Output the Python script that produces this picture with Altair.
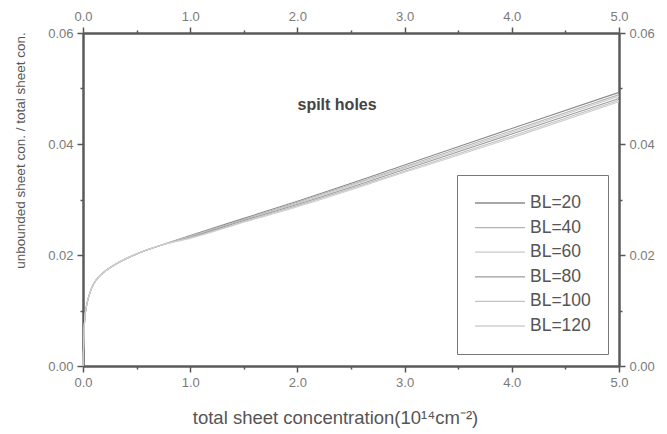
import altair as alt
import pandas as pd

# ---- data ----
x_vals = [0.0, 0.01, 0.02, 0.04, 0.07, 0.1, 0.15, 0.2, 0.3, 0.5, 0.75, 1.0, 1.5, 2.0, 3.0, 4.0, 5.0]
low = [0.0, 0.0065, 0.0092, 0.0115, 0.0135, 0.0148, 0.0161, 0.0170, 0.0183, 0.0202, 0.0219]
bl20 = low + [0.0235, 0.0266, 0.0297, 0.0362, 0.0428, 0.0493]
bl40 = low + [0.0234, 0.0264, 0.0295, 0.0359, 0.0424, 0.0489]
bl60 = low + [0.0233, 0.0263, 0.0293, 0.0357, 0.0421, 0.0486]
bl80 = low + [0.0232, 0.0262, 0.0291, 0.0354, 0.0418, 0.0482]
bl100 = low + [0.0231, 0.0260, 0.0289, 0.0351, 0.0414, 0.0479]
bl120 = low + [0.0230, 0.0259, 0.0287, 0.0349, 0.0411, 0.0476]

series_names = ["BL=20", "BL=40", "BL=60", "BL=80", "BL=100", "BL=120"]
series_vals = [bl20, bl40, bl60, bl80, bl100, bl120]
series_colors = ["#8a8a8a", "#b4b4b4", "#cacaca", "#9c9c9c", "#c2c2c2", "#cfcfcf"]

x_ticks = [0.0, 0.5, 1.0, 1.5, 2.0, 2.5, 3.0, 3.5, 4.0, 4.5, 5.0]
y_ticks = [0.0, 0.01, 0.02, 0.03, 0.04, 0.05, 0.06]

annot_text = ["spilt holes"]
annot_x = [2.37]
annot_y = [0.047]

rows = []
for name, vals in zip(series_names, series_vals):
    for xv, yv in zip(x_vals, vals):
        rows.append({"x": xv, "y": yv, "series": name})
df = pd.DataFrame(rows)
ann = pd.DataFrame({"x": annot_x, "y": annot_y, "t": annot_text})

FONT = "Liberation Sans"
xscale = alt.Scale(domain=[0, 5], nice=False, zero=False)
yscale = alt.Scale(domain=[0, 0.06], nice=False, zero=False)

x_label_expr = "round(datum.value*2) % 2 == 0 ? format(datum.value, '.1f') : ''"
y_label_expr = "round(datum.value*100) % 2 == 0 ? format(datum.value, '.2f') : ''"
x_tick_size = {"condition": {"test": "round(datum.value*2) % 2 == 0", "value": 6}, "value": 3}
y_tick_size = {"condition": {"test": "round(datum.value*100) % 2 == 0", "value": 6}, "value": 3}

common_axis = dict(
    grid=False,
    domainColor="#5a5a5a",
    domainWidth=2.5,
    tickColor="#555555",
    tickWidth=1.5,
    labelFont=FONT,
    labelFontSize=13,
    labelColor="#7a7a7a",
    labelPadding=4,
    labelOverlap=False,
    labelFlush=False,
)

lines = alt.Chart(df).mark_line(strokeWidth=1.1, interpolate="monotone").encode(
    x=alt.X("x:Q", scale=xscale,
            axis=alt.Axis(orient="bottom", values=x_ticks, labelExpr=x_label_expr,
                          tickSize=x_tick_size,
                          title="total sheet concentration(10¹⁴cm⁻²)",
                          titleFont=FONT, titleFontSize=18.5, titleFontWeight="normal",
                          titleColor="#555555", titleX=252, titleY=51,
                          titleBaseline="middle", titleAlign="center",
                          **common_axis)),
    y=alt.Y("y:Q", scale=yscale,
            axis=alt.Axis(orient="left", values=y_ticks, labelExpr=y_label_expr,
                          tickSize=y_tick_size,
                          title="unbounded sheet con. / total sheet con.",
                          titleFont=FONT, titleFontSize=13.5, titleFontWeight="normal",
                          titleColor="#555555", titleX=-63, titleY=117,
                          titleBaseline="middle", titleAlign="center", titleAngle=-90,
                          **common_axis)),
    color=alt.Color("series:N",
                    scale=alt.Scale(domain=series_names, range=series_colors),
                    sort=series_names,
                    legend=alt.Legend(
                        title=None, orient="none", legendX=374, legendY=142,
                        direction="vertical",
                        strokeColor="#777777", fillColor="white", padding=17,
                        symbolType="stroke", symbolSize=2500, symbolStrokeWidth=1.3,
                        labelFont=FONT, labelFontSize=17.5, labelColor="#555555",
                        labelOffset=4, clipHeight=22, rowPadding=2.6)),
)

frame = alt.Chart(df).mark_line(opacity=0).encode(
    x=alt.X("x:Q", scale=xscale,
            axis=alt.Axis(orient="top", values=x_ticks, labelExpr=x_label_expr,
                          tickSize=x_tick_size, title=None, **common_axis)),
    y=alt.Y("y:Q", scale=yscale,
            axis=alt.Axis(orient="right", values=y_ticks, labelExpr=y_label_expr,
                          tickSize=y_tick_size, title=None, **common_axis)),
    detail="series:N",
)

label = alt.Chart(ann).mark_text(font=FONT, fontSize=16, fontWeight="bold",
                                 color="#444444", align="center", baseline="middle").encode(
    x=alt.X("x:Q", scale=xscale, axis=None),
    y=alt.Y("y:Q", scale=yscale, axis=None),
    text="t:N",
)

chart = alt.layer(lines, label, frame).resolve_axis(x="independent", y="independent").properties(
    width=536, height=333,
    autosize=alt.AutoSizeParams(type="none"),
    padding={"left": 83, "top": 33, "right": 48, "bottom": 68},
    background="white",
).configure_view(stroke=None)

chart.save("out.html", embed_options={"renderer": "svg", "actions": False})
